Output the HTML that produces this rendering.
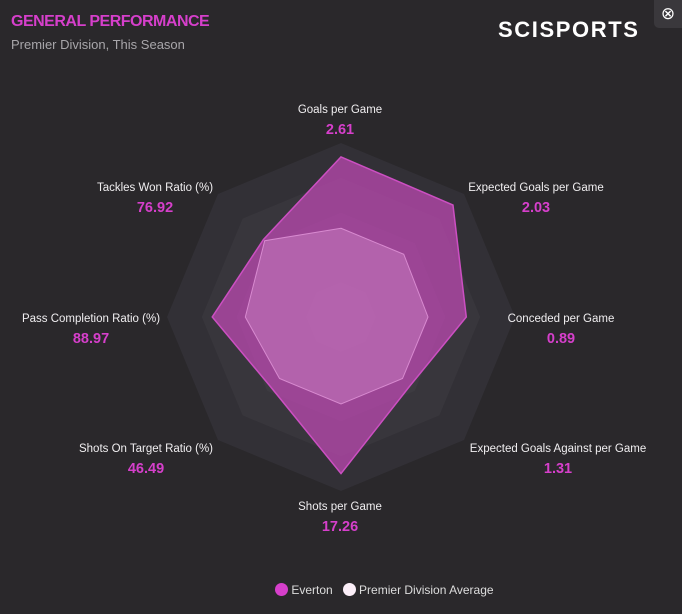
<!DOCTYPE html>
<html><head><meta charset="utf-8"><style>
body{margin:0;background:#1e1d20;font-family:"Liberation Sans",sans-serif}
#panel{position:absolute;left:0;top:0;width:682px;height:614px;background:#2a282b;overflow:hidden}
.t{position:absolute;white-space:nowrap}
</style></head><body>
<div id="panel">
<div class="t" style="left:11px;top:13px;font-size:16px;font-weight:bold;color:#d63fcb;letter-spacing:-0.5px">GENERAL PERFORMANCE</div>
<div class="t" style="left:11px;top:37px;font-size:13px;color:#a8a6aa">Premier Division, This Season</div>
<div class="t" style="left:498px;top:17px;font-size:22px;font-weight:bold;color:#fff;letter-spacing:1.6px">SCISPORTS</div>
<div style="position:absolute;left:654px;top:0;width:28px;height:28px;background:#3a383c;border-radius:0 0 0 5px;color:#fff;font-size:17px;text-align:center;line-height:27px">⊗</div>
<svg id="radar" width="682" height="614" style="position:absolute;left:0;top:0"></svg>
<div class="t" style="left:275px;top:583px;font-size:12px;color:#ddd">
<span><span style="display:inline-block;width:13px;height:13px;border-radius:50%;background:#d63fcb;vertical-align:-2px"></span> Everton</span>
&nbsp;&nbsp;<span><span style="display:inline-block;width:13px;height:13px;border-radius:50%;background:#fbeef8;vertical-align:-2px"></span> Premier Division Average</span>
</div>
</div>
<script>
const categories=["Goals per Game","Expected Goals per Game","Conceded per Game","Expected Goals Against per Game","Shots per Game","Shots On Target Ratio (%)","Pass Completion Ratio (%)","Tackles Won Ratio (%)"];
const valueLabels=["2.61","2.03","0.89","1.31","17.26","46.49","88.97","76.92"];
const evertonScores=[0.92,0.91,0.72,0.56,0.9,0.57,0.74,0.63];
const averageScores=[0.51,0.51,0.5,0.5,0.5,0.5,0.55,0.62];
const ringLevels=[1,0.8,0.6,0.4,0.2];
const cx=341,cy=317,R=174;
const svg=document.getElementById('radar');const NS='http://www.w3.org/2000/svg';
function ang(i){return -Math.PI/2+i*Math.PI/4;}
function pt(i,v){return [cx+R*v*Math.cos(ang(i)),cy+R*v*Math.sin(ang(i))];}
function poly(vals){return vals.map((v,i)=>pt(i,v).join(',')).join(' ');}
const ringCols=['#323036','#38363c','#3d3b41','#413f45','#454349'];
ringLevels.forEach((l,k)=>{const p=document.createElementNS(NS,'polygon');
p.setAttribute('points',poly(categories.map(()=>l)));p.setAttribute('fill',ringCols[k]);


svg.appendChild(p);});
const ev=document.createElementNS(NS,'polygon');
ev.setAttribute('points',poly(evertonScores));ev.setAttribute('fill','#c04ab6');ev.setAttribute('fill-opacity','0.72');ev.setAttribute('stroke','#cc4fc2');ev.setAttribute('stroke-width','1.5');


svg.appendChild(ev);
const av=document.createElementNS(NS,'polygon');
av.setAttribute('points',poly(averageScores));av.setAttribute('fill','#e8a6e0');av.setAttribute('fill-opacity','0.3');av.setAttribute('stroke','#d88ad0');av.setAttribute('stroke-width','1');


svg.appendChild(av);
const labelPos=[[340,113,'middle'],[536,191,'middle'],[561,322,'middle'],[558,452,'middle'],[340,510,'middle'],[146,452,'middle'],[91,322,'middle'],[155,191,'middle']];
categories.forEach((c,i)=>{const [x,y,a]=labelPos[i];
const t=document.createElementNS(NS,'text');t.setAttribute('x',x);t.setAttribute('y',y);t.setAttribute('text-anchor',a);
t.setAttribute('fill','#f0eef0');t.setAttribute('font-size','11.5');t.setAttribute('font-family','Liberation Sans, sans-serif');t.textContent=c;


svg.appendChild(t);
const v=document.createElementNS(NS,'text');v.setAttribute('x',x);v.setAttribute('y',y+21);v.setAttribute('text-anchor',a);
v.setAttribute('fill','#d63fcb');v.setAttribute('font-size','14.5');v.setAttribute('font-weight','bold');v.setAttribute('font-family','Liberation Sans, sans-serif');v.textContent=valueLabels[i];


svg.appendChild(v);});
</script>
</body></html>
